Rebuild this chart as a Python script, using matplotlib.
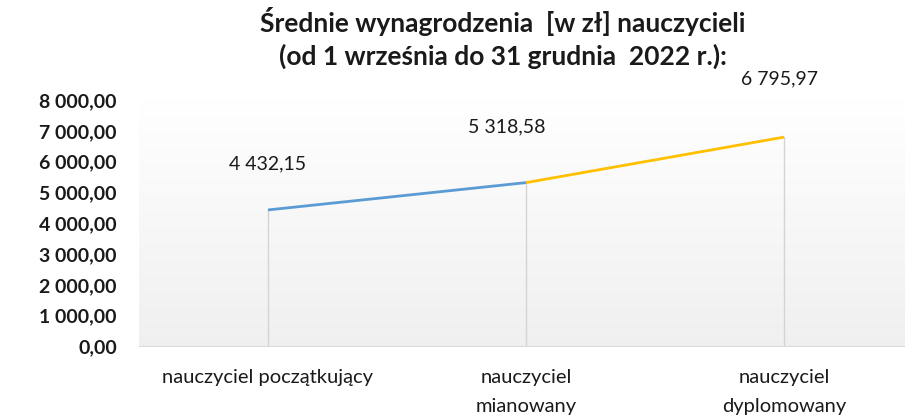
import numpy as np
import matplotlib
matplotlib.use('Agg')
import matplotlib.pyplot as plt
from matplotlib.ticker import FuncFormatter

plt.rcParams['font.family'] = ['Lato', 'DejaVu Sans']

# Average salaries by teacher grade
categories = ['nauczyciel początkujący', 'nauczyciel\nmianowany', 'nauczyciel\ndyplomowany']
salaries = [4432.15, 5318.58, 6795.97]
valueLabels = ['4 432,15', '5 318,58', '6 795,97']
yTicks = [0, 1000, 2000, 3000, 4000, 5000, 6000, 7000, 8000]

segmentColors = ['#5B9BD5', '#FFC000']
labelOffsets = [(0, 33), (-14, 40), (-3, 42)]


def PlFormat(value, pos):
    return f'{value:,.2f}'.replace(',', ' ').replace('.', ',')


fig = plt.figure(figsize=(9.05, 4.16), dpi=100)
ax = fig.add_axes([139/905, 69.5/416, 774/905, 246.5/416])

# Soft vertical gradient behind the plot
grad = np.linspace(1.0, 0.94, 256).reshape(-1, 1)
ax.imshow(np.dstack([grad, grad, grad]), extent=[0, 1, 0, 1], transform=ax.transAxes,
          aspect='auto', zorder=0)

xPos = np.arange(len(categories))

# Drop lines from the axis up to each point
for x, v in zip(xPos, salaries):
    ax.plot([x, x], [0, v], color='#d4d4d4', linewidth=1.0, zorder=1)

ax.axhline(0, color='#d9d9d9', linewidth=1.5, zorder=1)

for i in range(len(salaries) - 1):
    ax.plot(xPos[i:i+2], salaries[i:i+2], color=segmentColors[i], linewidth=2.0,
            solid_capstyle='butt', zorder=3)

for x, v, txt, off in zip(xPos, salaries, valueLabels, labelOffsets):
    ax.annotate(txt, xy=(x, v), xytext=off, textcoords='offset points',
                ha='center', va='center', fontsize=14, color='#1a1a1a')

ax.set_xlim(-0.5, 2.5)
ax.set_ylim(0, 8000)
ax.set_yticks(yTicks)
ax.yaxis.set_major_formatter(FuncFormatter(PlFormat))
ax.set_xticks(xPos)
ax.set_xticklabels(categories, fontsize=14.5, color='#1a1a1a', linespacing=1.9)
ax.tick_params(axis='y', length=0, pad=16, labelsize=14, labelcolor='#1a1a1a')
ax.tick_params(axis='x', length=0, pad=16)
for lbl in ax.get_yticklabels():
    lbl.set_fontweight('bold')
for s in ax.spines.values():
    s.set_visible(False)

fig.text(503/905, 1 - 38/416, 'Średnie wynagrodzenia  [w zł] nauczycieli\n(od 1 września do 31 grudnia  2022 r.):',
         ha='center', va='center', fontsize=19, fontweight='bold', color='#1a1a1a', linespacing=1.4)

fig.savefig('out.png', dpi=100)
